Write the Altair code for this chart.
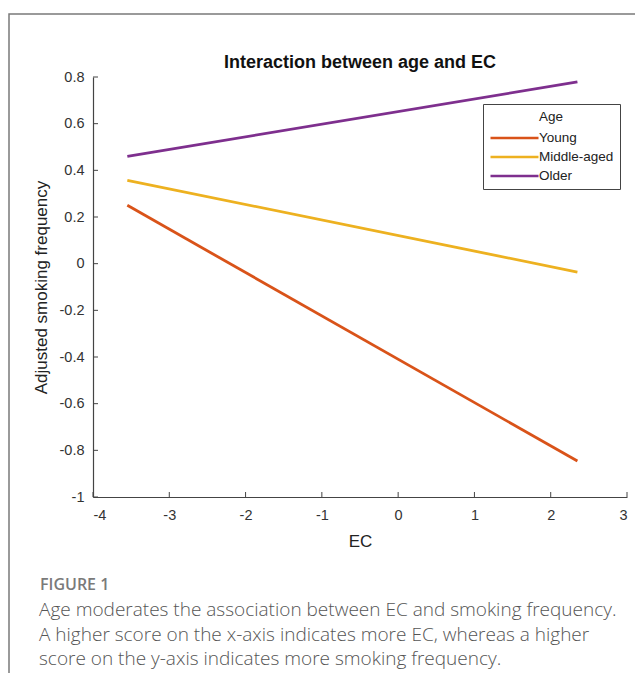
import altair as alt
import pandas as pd

# ---- data ----
groups = ["Young", "Middle-aged", "Older"]
ec_start = [-3.55, -3.55, -3.55]
ec_end = [2.35, 2.35, 2.35]
y_start = [0.25, 0.357, 0.46]
y_end = [-0.846, -0.036, 0.779]
colors = ["#D95319", "#EDB120", "#7E2F8E"]
x_ticks = [-4, -3, -2, -1, 0, 1, 2, 3]
y_ticks = [-1, -0.8, -0.6, -0.4, -0.2, 0, 0.2, 0.4, 0.6, 0.8]
chart_title = "Interaction between age and EC"
caption_head = "FIGURE 1"
caption_lines = [
    "Age moderates the association between EC and smoking frequency.",
    "A higher score on the x-axis indicates more EC, whereas a higher",
    "score on the y-axis indicates more smoking frequency.",
]

rows = []
for g, xs, xe, ys, ye in zip(groups, ec_start, ec_end, y_start, y_end):
    rows.append({"Age": g, "EC": xs, "val": ys})
    rows.append({"Age": g, "EC": xe, "val": ye})
df = pd.DataFrame(rows)

W, H = 534, 420
FONT = "Liberation Sans"
xscale = alt.Scale(domain=[-4, 3], nice=False, zero=False)
yscale = alt.Scale(domain=[-1, 0.8], nice=False, zero=False)

frame = alt.Chart(pd.DataFrame({"a": [0]})).mark_rect(
    fill=None, stroke="#7a7a7a", strokeWidth=1.5, clip=False
).encode(x=alt.value(-84), x2=alt.value(600), y=alt.value(-63), y2=alt.value(640))

lines = alt.Chart(df).mark_line(strokeWidth=2.8, clip=False).encode(
    x=alt.X("EC:Q", scale=xscale,
            axis=alt.Axis(values=x_ticks, title="EC", tickSize=0, grid=False,
                          labelPadding=11, titlePadding=12,
                          labelExpr="'' + datum.value")),
    y=alt.Y("val:Q", scale=yscale,
            axis=alt.Axis(values=y_ticks, title="Adjusted smoking frequency", tickSize=0,
                          grid=False, labelPadding=9, titlePadding=9,
                          labelExpr="'' + datum.value")),
    color=alt.Color("Age:N", scale=alt.Scale(domain=groups, range=colors),
                    sort=groups,
                    legend=alt.Legend(orient="none", legendX=390, legendY=27, title="Age",
                                      titleAnchor="middle", titleFontWeight="normal",
                                      titleFontSize=13.5, titleColor="#222", titleFont=FONT,
                                      symbolType="M-1,0H7", symbolSize=144,
                                      symbolStrokeWidth=2.6, labelOffset=35,
                                      labelFontSize=13.5, labelFont=FONT, labelColor="#222",
                                      strokeColor="#444", fillColor="white",
                                      padding=6, rowPadding=5, titlePadding=7)),
)

xt = alt.Chart(pd.DataFrame({"t": x_ticks})).mark_rule(color="#444", strokeWidth=1).encode(
    x=alt.X("t:Q", scale=xscale), y=alt.value(H), y2=alt.value(H - 5))
yt = alt.Chart(pd.DataFrame({"t": y_ticks})).mark_rule(color="#444", strokeWidth=1).encode(
    y=alt.Y("t:Q", scale=yscale), x=alt.value(0), x2=alt.value(5))

title_mark = alt.Chart(pd.DataFrame({"t": [chart_title]})).mark_text(
    align="center", baseline="alphabetic", font=FONT, fontSize=18, fontWeight="bold",
    color="#111", clip=False
).encode(text="t:N", x=alt.value(W / 2), y=alt.value(-9))

cap_head = alt.Chart(pd.DataFrame({"t": [caption_head]})).mark_text(
    align="left", baseline="alphabetic", font="Open Sans", fontSize=16,
    fontWeight=600, color="#7a7a7a", clip=False
).encode(text="t:N", x=alt.value(-53), y=alt.value(513))

cap_body = alt.Chart(pd.DataFrame({"t": ["\n".join(caption_lines)]})).mark_text(
    align="left", baseline="alphabetic", font="Open Sans", fontSize=19, fontWeight=300,
    color="#555", lineBreak="\n", lineHeight=24.5, clip=False
).encode(text="t:N", x=alt.value(-54), y=alt.value(539))

chart = alt.layer(frame, lines, xt, yt, title_mark, cap_head, cap_body).properties(
    width=W, height=H,
    autosize=alt.AutoSizeParams(type="none"),
    padding={"left": 85, "top": 69, "right": 8, "bottom": 176},
).configure_view(stroke=None).configure_axis(
    domainColor="#444", domainWidth=1.2, labelFont=FONT, labelFontSize=14.5,
    labelColor="#333", titleFont=FONT, titleFontSize=17, titleColor="#222",
    titleFontWeight="normal"
)

chart.save("out.html", embed_options={"renderer": "svg", "actions": False})
